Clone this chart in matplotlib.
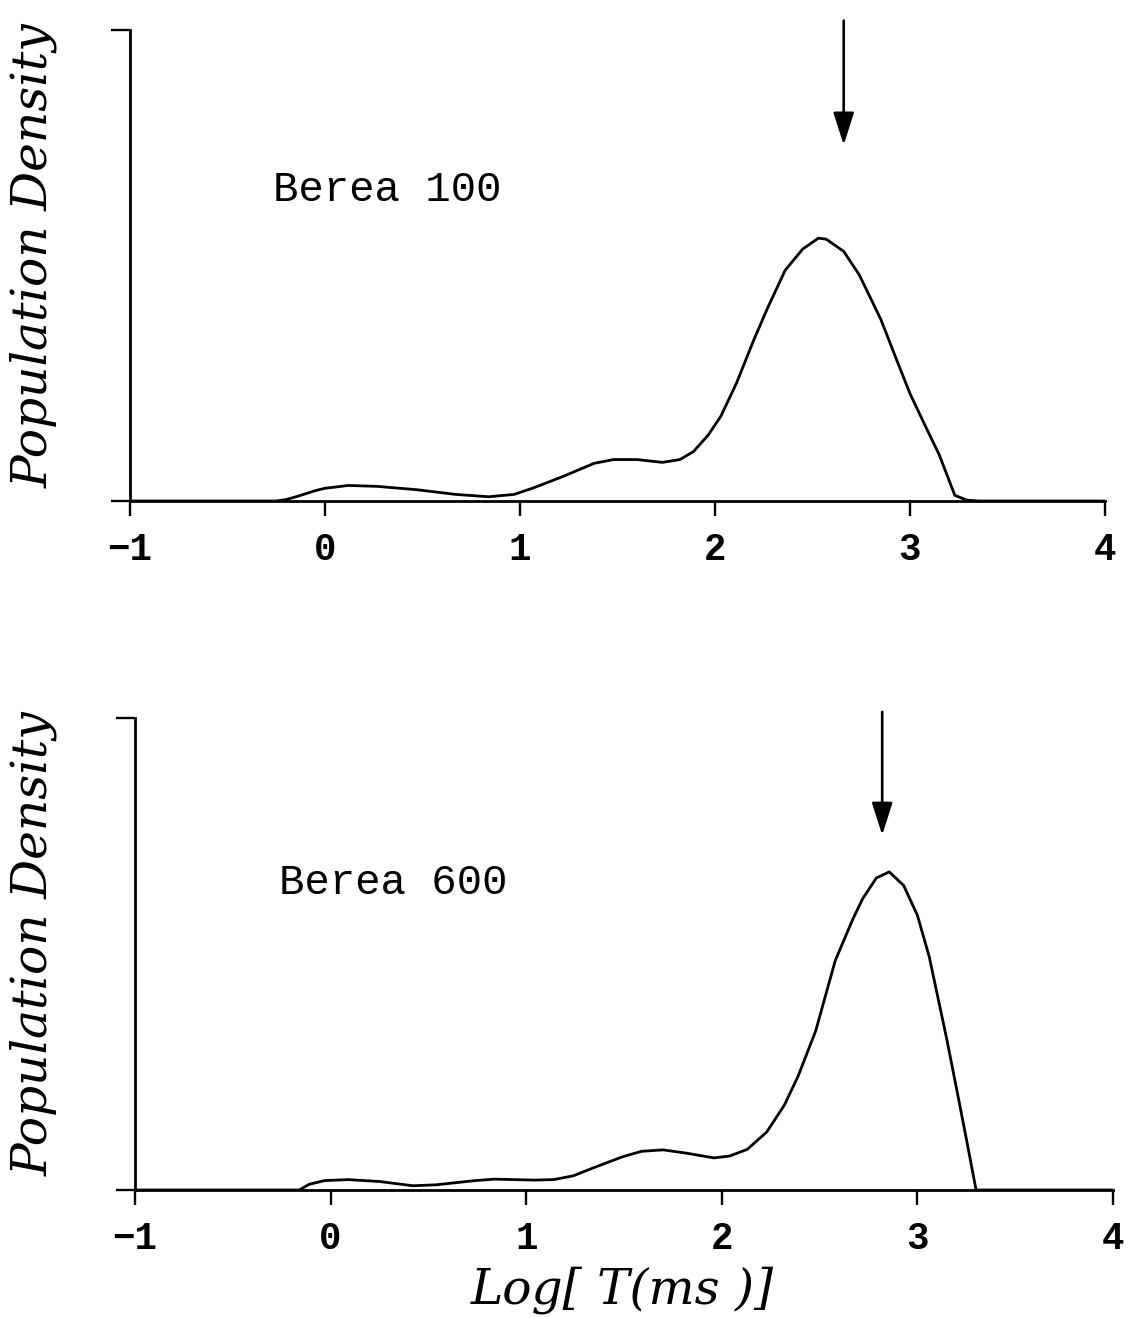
import matplotlib
matplotlib.use("Agg")
import matplotlib.pyplot as plt

# ---------------- data ----------------
top_label = "Berea 100"
bot_label = "Berea 600"
y_label = "Population Density"
x_label = "Log[ T(ms )]"
x_ticks = [-1, 0, 1, 2, 3, 4]
x_tick_labels = ["\u22121", "0", "1", "2", "3", "4"]

top_x = [-1.0, -0.25, -0.2, -0.14, -0.05, 0.0, 0.12, 0.27, 0.47, 0.67, 0.84, 0.97,
         1.07, 1.22, 1.38, 1.48, 1.6, 1.73, 1.82, 1.89, 1.965, 2.03, 2.11, 2.2,
         2.27, 2.36, 2.45, 2.53, 2.57, 2.66, 2.74, 2.85, 2.935, 3.0, 3.08, 3.15,
         3.23, 3.29, 3.35, 4.0]
top_y = [0.0, 0.0, 0.003, 0.01, 0.022, 0.027, 0.033, 0.031, 0.024, 0.014, 0.009, 0.014,
         0.028, 0.052, 0.08, 0.088, 0.088, 0.082, 0.088, 0.105, 0.14, 0.18, 0.25, 0.343,
         0.41, 0.49, 0.535, 0.558, 0.556, 0.53, 0.48, 0.386, 0.296, 0.228, 0.158, 0.098,
         0.012, 0.002, 0.0, 0.0]

bot_x = [-1.0, -0.16, -0.11, -0.03, 0.09, 0.25, 0.42, 0.54, 0.74, 0.84, 1.04, 1.14,
         1.24, 1.35, 1.49, 1.59, 1.70, 1.82, 1.96, 2.04, 2.13, 2.23, 2.32, 2.39,
         2.48, 2.58, 2.67, 2.72, 2.79, 2.856, 2.93, 3.0, 3.06, 3.15, 3.2, 3.25,
         3.30, 4.0]
bot_y = [0.0, 0.0, 0.012, 0.02, 0.022, 0.018, 0.009, 0.011, 0.02, 0.023, 0.021, 0.022,
         0.03, 0.048, 0.07, 0.082, 0.085, 0.078, 0.068, 0.072, 0.086, 0.123, 0.18, 0.241,
         0.337, 0.486, 0.574, 0.617, 0.661, 0.674, 0.645, 0.582, 0.495, 0.32, 0.215, 0.109,
         0.0, 0.0]

top_arrow_x, top_arrow_from, top_arrow_to = 2.66, 1.02, 0.756
bot_arrow_x, bot_arrow_from, bot_arrow_to = 2.82, 1.013, 0.752

# ---------------- figure ----------------
W, H = 1131, 1318
fig = plt.figure(figsize=(W / 100, H / 100), dpi=100)

ylab_font = dict(family="DejaVu Serif", style="italic", size=35)
xlab_font = dict(family="DejaVu Serif", style="italic", size=35)
tick_font = dict(family="Liberation Mono", weight="bold", size=27)
text_font = dict(family="Liberation Mono", size=30.5)


def make_panel(rect, xs, ys, label, label_xy, ylab_y, ax_x, a_from, a_to):
    ax = fig.add_axes(rect)
    ax.plot(xs, ys, color="black", lw=2.0, solid_joinstyle="round")
    ax.set_xlim(-1, 4)
    ax.set_ylim(0, 1)
    for s in ("top", "right"):
        ax.spines[s].set_visible(False)
    for s in ("left", "bottom"):
        ax.spines[s].set_linewidth(2.0)
    ax.set_xticks(x_ticks)
    ax.set_xticklabels(x_tick_labels, fontdict=tick_font)
    ax.set_yticks([0, 1])
    ax.set_yticklabels([])
    ax.tick_params(axis="x", direction="out", length=11, width=1.7, pad=11)
    ax.tick_params(axis="y", direction="out", length=14, width=1.7)
    fig.text(34 / W, 1 - ylab_y / H, y_label, fontdict=ylab_font,
             rotation=90, ha="center", va="center")
    ax.text(label_xy[0], label_xy[1], label, fontdict=text_font,
            ha="left", va="center")
    ax.annotate("", xy=(ax_x, a_to), xytext=(ax_x, a_from),
                arrowprops=dict(arrowstyle="-|>,head_length=1.0,head_width=0.32",
                                mutation_scale=20, lw=1.9, color="black",
                                shrinkA=0, shrinkB=0),
                annotation_clip=False)
    return ax


make_panel([130 / W, 1 - 501 / H, (1105 - 130) / W, (501 - 30) / H],
           top_x, top_y, top_label, (-0.265, 0.66), 256,
           top_arrow_x, top_arrow_from, top_arrow_to)
make_panel([135 / W, 1 - 1190 / H, (1113 - 135) / W, (1190 - 718) / H],
           bot_x, bot_y, bot_label, (-0.265, 0.65), 944,
           bot_arrow_x, bot_arrow_from, bot_arrow_to)
fig.text(622 / W, 1 - 1290 / H, x_label, fontdict=xlab_font,
         ha="center", va="center")

fig.savefig("out.png", dpi=100)
